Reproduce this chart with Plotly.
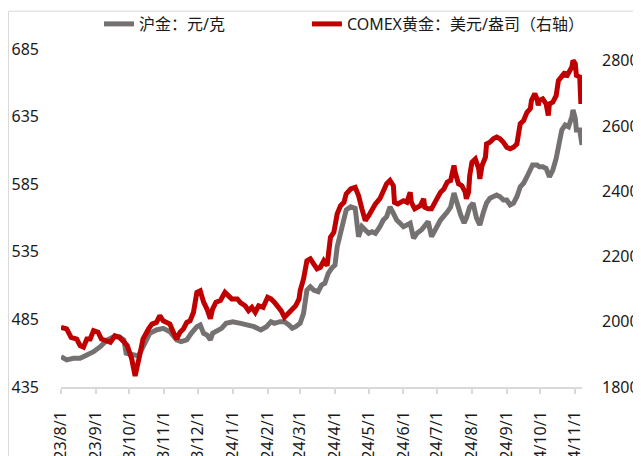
import plotly.graph_objects as go

# ---------------- data ----------------
shfe_dates = ['2023-08-01','2023-08-06','2023-08-12','2023-08-18','2023-08-24','2023-08-30','2023-09-05','2023-09-11',
 '2023-09-17','2023-09-22','2023-09-26','2023-09-28','2023-10-09','2023-10-11','2023-10-13','2023-10-19','2023-10-25',
 '2023-10-31','2023-11-06','2023-11-12','2023-11-16','2023-11-21','2023-11-25','2023-11-30','2023-12-03','2023-12-06',
 '2023-12-09','2023-12-12','2023-12-14','2023-12-17','2023-12-22','2023-12-26','2024-01-01','2024-01-08','2024-01-14',
 '2024-01-20','2024-01-26','2024-01-31','2024-02-04','2024-02-07','2024-02-12','2024-02-16','2024-02-20','2024-02-23',
 '2024-02-26','2024-03-01','2024-03-04','2024-03-07','2024-03-10','2024-03-13','2024-03-17','2024-03-20','2024-03-23',
 '2024-03-26','2024-03-29','2024-04-01','2024-04-03','2024-04-06','2024-04-09','2024-04-11','2024-04-15','2024-04-19',
 '2024-04-22','2024-04-25','2024-04-28','2024-05-01','2024-05-04','2024-05-07','2024-05-11','2024-05-14','2024-05-17',
 '2024-05-20','2024-05-23','2024-05-26','2024-05-29','2024-06-01','2024-06-04','2024-06-07','2024-06-10','2024-06-13',
 '2024-06-17','2024-06-20','2024-06-23','2024-06-26','2024-06-29','2024-07-04','2024-07-10','2024-07-13','2024-07-16',
 '2024-07-19','2024-07-22','2024-07-25','2024-07-27','2024-07-30','2024-08-02','2024-08-05','2024-08-08','2024-08-11',
 '2024-08-14','2024-08-17','2024-08-20','2024-08-23','2024-08-26','2024-08-29','2024-09-01','2024-09-04','2024-09-07',
 '2024-09-10','2024-09-13','2024-09-16','2024-09-19','2024-09-22','2024-09-24','2024-09-28','2024-09-30','2024-10-03',
 '2024-10-06','2024-10-09','2024-10-12','2024-10-15','2024-10-17','2024-10-20','2024-10-23','2024-10-26','2024-10-29',
 '2024-10-30','2024-11-01','2024-11-02','2024-11-05','2024-11-06','2024-11-07']
shfe_values = [457.4,455.0,456.2,456.2,458.7,461.1,464.8,469.8,
 472.2,472.2,469.8,460.0,458.0,461.0,464.8,474.7,477.2,
 478.4,475.9,469.8,468.5,469.8,474.7,479.6,480.9,474.7,
 473.5,469.8,474.7,475.9,478.4,482.1,483.3,482.1,480.9,
 479.6,477.2,479.6,483.3,482.1,483.3,483.3,480.9,478.4,
 479.6,482.1,489.5,506.7,509.2,506.7,505.5,510.4,511.7,
 519.1,522.8,525.2,538.8,548.7,559.8,565.9,568.3,567.2,
 546.2,553.6,551.1,548.7,549.9,548.7,553.6,558.5,561.0,
 568.3,563.5,558.5,556.1,553.6,554.8,556.1,545.0,548.7,
 551.1,554.8,557.3,546.2,551.1,558.5,564.4,568.1,578.5,
 569.6,562.2,556.3,560.0,568.1,571.1,560.0,554.8,563.7,
 571.1,574.6,575.7,577.0,575.7,573.3,573.3,569.6,570.9,
 575.7,583.1,585.7,590.5,595.5,599.2,599.2,597.9,597.9,
 596.7,590.5,595.5,604.1,614.0,625.1,628.8,627.5,634.9,
 639.9,633.7,625.1,625.1,617.7,614.0]

comex_dates = ['2023-08-01','2023-08-06','2023-08-10','2023-08-15','2023-08-18','2023-08-21','2023-08-24','2023-08-27',
 '2023-08-30','2023-09-03','2023-09-06','2023-09-11','2023-09-14','2023-09-18','2023-09-22','2023-09-25','2023-09-29',
 '2023-10-03','2023-10-06','2023-10-10','2023-10-13','2023-10-18','2023-10-21','2023-10-25','2023-10-28','2023-10-31',
 '2023-11-03','2023-11-06','2023-11-09','2023-11-12','2023-11-15','2023-11-18','2023-11-21','2023-11-24','2023-11-27',
 '2023-11-30','2023-12-03','2023-12-06','2023-12-09','2023-12-12','2023-12-14','2023-12-17','2023-12-21','2023-12-25',
 '2023-12-28','2023-12-31','2024-01-05','2024-01-08','2024-01-12','2024-01-15','2024-01-18','2024-01-21','2024-01-24',
 '2024-01-28','2024-02-01','2024-02-04','2024-02-07','2024-02-10','2024-02-13','2024-02-16','2024-02-19','2024-02-22',
 '2024-02-26','2024-02-29','2024-03-01','2024-03-04','2024-03-07','2024-03-10','2024-03-13','2024-03-16','2024-03-19',
 '2024-03-22','2024-03-25','2024-03-26','2024-03-28','2024-03-31','2024-04-01','2024-04-03','2024-04-06','2024-04-09',
 '2024-04-11','2024-04-15','2024-04-19','2024-04-22','2024-04-25','2024-04-28','2024-05-01','2024-05-04','2024-05-07',
 '2024-05-11','2024-05-14','2024-05-17','2024-05-20','2024-05-23','2024-05-24','2024-05-27','2024-06-01','2024-06-04',
 '2024-06-07','2024-06-08','2024-06-11','2024-06-16','2024-06-19','2024-06-20','2024-06-23','2024-06-26','2024-06-29',
 '2024-07-04','2024-07-07','2024-07-10','2024-07-13','2024-07-16','2024-07-17','2024-07-20','2024-07-23','2024-07-26',
 '2024-07-27','2024-07-29','2024-07-30','2024-08-01','2024-08-04','2024-08-07','2024-08-08','2024-08-10','2024-08-13',
 '2024-08-14','2024-08-17','2024-08-20','2024-08-23','2024-08-26','2024-08-29','2024-09-01','2024-09-04','2024-09-07',
 '2024-09-10','2024-09-11','2024-09-13','2024-09-16','2024-09-19','2024-09-22','2024-09-23','2024-09-26','2024-09-28',
 '2024-09-29','2024-09-30','2024-10-03','2024-10-06','2024-10-08','2024-10-09','2024-10-12','2024-10-15','2024-10-17',
 '2024-10-20','2024-10-23','2024-10-24','2024-10-26','2024-10-29','2024-10-30','2024-11-01','2024-11-02','2024-11-05',
 '2024-11-06','2024-11-07']
comex_values = [1983,1978,1952,1947,1927,1922,1947,1947,
 1973,1968,1947,1942,1937,1957,1952,1942,1927,
 1886,1834,1896,1947,1978,1993,1998,2019,2003,
 1998,1993,1968,1947,1968,1978,1998,2003,2029,
 2090,2095,2060,2039,2009,2039,2060,2065,2090,
 2080,2070,2070,2058,2049,2034,2044,2029,2049,
 2044,2075,2070,2060,2049,2034,2014,2024,2039,
 2049,2070,2095,2131,2187,2193,2177,2162,2167,
 2187,2172,2198,2259,2274,2295,2331,2356,2366,
 2392,2407,2412,2387,2346,2310,2325,2346,2361,
 2377,2397,2423,2433,2417,2366,2361,2371,2366,
 2397,2366,2346,2356,2377,2351,2346,2346,2366,
 2397,2407,2428,2433,2479,2458,2423,2417,2397,
 2377,2397,2448,2489,2499,2469,2438,2479,2504,
 2545,2550,2561,2566,2561,2550,2535,2530,2535,
 2545,2571,2607,2617,2642,2653,2678,2699,2683,
 2663,2678,2683,2668,2632,2668,2673,2693,2739,
 2750,2765,2750,2765,2781,2801,2791,2755,2750,
 2668,2700]

x_tick_dates = ['2023-08-01','2023-09-01','2023-10-01','2023-11-01','2023-12-01','2024-01-01','2024-02-01','2024-03-01',
                '2024-04-01','2024-05-01','2024-06-01','2024-07-01','2024-08-01','2024-09-01','2024-10-01','2024-11-01']
x_tick_labels = ['23/8/1','23/9/1','23/10/1','23/11/1','23/12/1','24/1/1','24/2/1','24/3/1',
                 '24/4/1','24/5/1','24/6/1','24/7/1','24/8/1','24/9/1','24/10/1','24/11/1']
left_ticks = [435, 485, 535, 585, 635, 685]
right_ticks = [1800, 2000, 2200, 2400, 2600, 2800]

series_names = ['沪金：元/克', 'COMEX黄金：美元/盎司（右轴）']

# ---------------- figure ----------------
FONT = 'Noto Sans, Noto Sans CJK SC, sans-serif'
TXT = '#1a1a1a'
AX = '#D9D9D9'

fig = go.Figure()
fig.add_trace(go.Scatter(x=shfe_dates, y=shfe_values, name=series_names[0], mode='lines', showlegend=True,
                         line=dict(color='#767171', width=5), yaxis='y', legend='legend'))
fig.add_trace(go.Scatter(x=comex_dates, y=comex_values, name=series_names[1], mode='lines', showlegend=True,
                         line=dict(color='#C00000', width=5), yaxis='y2', legend='legend2'))

# the page body adds an 8px offset, so the figure is sized to fit the window inside it
fig.update_layout(
    width=633, height=448,
    showlegend=True,
    margin=dict(l=53, r=59, t=41, b=69, autoexpand=False),
    paper_bgcolor='white', plot_bgcolor='white',
    font=dict(family=FONT, size=16, color=TXT),
    xaxis=dict(type='date', range=['2023-08-01', '2024-11-07'],
               tickmode='array', tickvals=x_tick_dates, ticktext=x_tick_labels,
               tickangle=-90, ticks='outside', ticklen=5, tickwidth=1.5, tickcolor=AX,
               showline=True, linecolor=AX, linewidth=1.5, showgrid=False, zeroline=False,
               tickfont=dict(size=16, color=TXT), automargin=False, ticklabelstandoff=11),
    yaxis=dict(range=[435, 685], tickmode='array', tickvals=left_ticks,
               showgrid=False, zeroline=False, showline=False, ticks='',
               tickfont=dict(size=16, color=TXT), automargin=False, ticklabelstandoff=21),
    yaxis2=dict(range=[1800, 2836], tickmode='array', tickvals=right_ticks,
                overlaying='y', side='right', showgrid=False, zeroline=False, showline=False, ticks='',
                tickfont=dict(size=16, color=TXT), automargin=False, ticklabelstandoff=19),
    legend=dict(x=0.0729, y=1.074, xanchor='left', yanchor='middle', orientation='h',
                font=dict(size=16, color=TXT), bgcolor='rgba(0,0,0,0)', borderwidth=0),
    legend2=dict(x=0.472, y=1.074, xanchor='left', yanchor='middle', orientation='h',
                 font=dict(size=16, color=TXT), bgcolor='rgba(0,0,0,0)', borderwidth=0),
    shapes=[dict(type='rect', xref='paper', yref='paper', x0=-0.1008, x1=1.2, y0=-0.3, y1=1.112,
                 line=dict(color=AX, width=1), fillcolor='rgba(0,0,0,0)', layer='below')],
)

fig.write_html('out.html')
